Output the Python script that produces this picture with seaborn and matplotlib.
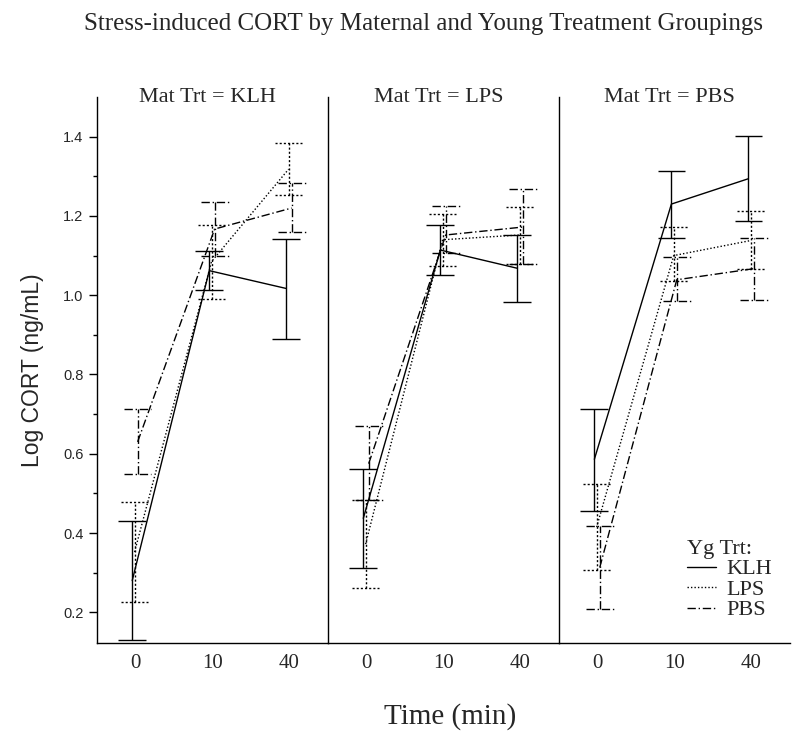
import pandas as pd
import matplotlib.pyplot as plt
import seaborn as sns

# Categories
times = ["0", "10", "40"]
mat_groups = ["KLH", "LPS", "PBS"]
yg_groups = ["KLH", "LPS", "PBS"]

# Mat Trt = KLH (rows: Yg KLH, LPS, PBS)
mat_klh_mean = [[0.28, 1.062, 1.017], [0.352, 1.085, 1.318], [0.63, 1.167, 1.22]]
mat_klh_lo = [[0.13, 1.012, 0.890], [0.227, 0.99, 1.254], [0.55, 1.099, 1.159]]
mat_klh_hi = [[0.43, 1.112, 1.143], [0.478, 1.177, 1.383], [0.713, 1.235, 1.282]]

# Mat Trt = LPS
mat_lps_mean = [[0.437, 1.114, 1.068], [0.372, 1.14, 1.152], [0.575, 1.152, 1.172]]
mat_lps_lo = [[0.311, 1.052, 0.983], [0.261, 1.075, 1.08], [0.484, 1.106, 1.08]]
mat_lps_hi = [[0.562, 1.177, 1.152], [0.484, 1.204, 1.223], [0.669, 1.225, 1.267]]

# Mat Trt = PBS
mat_pbs_mean = [[0.586, 1.23, 1.294], [0.415, 1.10, 1.138], [0.313, 1.039, 1.067]]
mat_pbs_lo = [[0.455, 1.144, 1.187], [0.307, 1.037, 1.067], [0.209, 0.985, 0.988]]
mat_pbs_hi = [[0.714, 1.314, 1.402], [0.523, 1.171, 1.213], [0.417, 1.096, 1.145]]

# Build one long table
rows = []
tables = {"KLH": (mat_klh_mean, mat_klh_lo, mat_klh_hi),
          "LPS": (mat_lps_mean, mat_lps_lo, mat_lps_hi),
          "PBS": (mat_pbs_mean, mat_pbs_lo, mat_pbs_hi)}
for mat in mat_groups:
    means, los, his = tables[mat]
    for i, yg in enumerate(yg_groups):
        for j, t in enumerate(times):
            rows.append({"mat": mat, "yg": yg, "time": t, "tpos": j,
                         "mean": means[i][j], "lo": los[i][j], "hi": his[i][j]})
df = pd.DataFrame(rows)

# small horizontal dodge per young treatment
dodge = {"KLH": -0.04, "LPS": -0.01, "PBS": 0.03}
df["xpos"] = df["tpos"] + df["yg"].map(dodge)

dashes = {"KLH": "", "LPS": (1, 1.5), "PBS": (6, 2, 1, 2)}
err_styles = {"KLH": "solid", "LPS": (0, (1.5, 1.5)), "PBS": (0, (6, 2, 1, 2))}

serif = "Liberation Serif"
sans = "Liberation Sans"

sns.set_style("ticks")
plt.rcParams["font.family"] = [serif, "DejaVu Sans"]

fig, axes = plt.subplots(1, 3, figsize=(8, 7.41), dpi=100, sharey=True)
fig.subplots_adjust(left=0.121, right=0.9875, bottom=0.132, top=0.869, wspace=0)

cap = 0.18
for k, (ax, mat) in enumerate(zip(axes, mat_groups)):
    sub = df[df["mat"] == mat]
    sns.lineplot(data=sub, x="xpos", y="mean", style="yg", dashes=dashes,
                 color="black", linewidth=1.0, estimator=None, sort=True,
                 legend=(k == 2), ax=ax)
    for yg in yg_groups:
        s = sub[sub["yg"] == yg]
        ax.vlines(s["xpos"], s["lo"], s["hi"], colors="black",
                  linestyles=err_styles[yg], linewidth=1.0)
        ax.hlines(s["lo"], s["xpos"] - cap, s["xpos"] + cap, colors="black",
                  linestyles=err_styles[yg], linewidth=1.0)
        ax.hlines(s["hi"], s["xpos"] - cap, s["xpos"] + cap, colors="black",
                  linestyles=err_styles[yg], linewidth=1.0)

    ax.set_xlim(-0.5, 2.5)
    ax.set_ylim(0.122, 1.5)
    ax.set_xticks(range(len(times)))
    ax.set_xticklabels(times, fontsize=15, family=serif)
    ax.tick_params(axis="x", length=0, pad=8)
    ax.set_xlabel("")
    ax.set_ylabel("")
    ax.text(0.48, 1.0, f"Mat Trt = {mat}", transform=ax.transAxes,
            ha="center", va="center", fontsize=16, family=serif)
    sns.despine(ax=ax)
    for sp in ["left", "bottom"]:
        ax.spines[sp].set_linewidth(1.0)
        ax.spines[sp].set_color("black")
    if k > 0:
        ax.tick_params(axis="y", left=False, which="both")

ax0 = axes[0]
ax0.set_yticks([0.2, 0.4, 0.6, 0.8, 1.0, 1.2, 1.4])
ax0.set_yticks([0.3, 0.5, 0.7, 0.9, 1.1, 1.3], minor=True)
ax0.set_yticklabels([f"{v:.1f}" for v in ax0.get_yticks()], family=sans, fontsize=10.5)
ax0.tick_params(axis="y", which="major", length=6, width=1, direction="out", color="black")
ax0.tick_params(axis="y", which="minor", length=3, width=1, direction="out", color="black")
ax0.set_ylabel("Log CORT (ng/mL)", family=sans, fontsize=16.5, labelpad=14)

axes[1].set_xlabel("Time (min)", family=serif, fontsize=21)
axes[1].xaxis.set_label_coords(0.53, -0.11)

leg = axes[2].legend(title="Yg Trt:", loc="lower right", bbox_to_anchor=(1.01, 0.005),
                     frameon=False, handlelength=1.3, handletextpad=0.5,
                     labelspacing=0.0, prop={"family": serif, "size": 16})
leg.get_title().set_fontfamily(serif)
leg.get_title().set_fontsize(16)
leg._legend_box.align = "left"
for h in leg.get_lines():
    h.set_linewidth(1.0)

fig.suptitle("Stress-induced CORT by Maternal and Young Treatment Groupings",
             family=serif, fontsize=18, x=0.53, y=0.982)

plt.savefig("out.png", dpi=100)
